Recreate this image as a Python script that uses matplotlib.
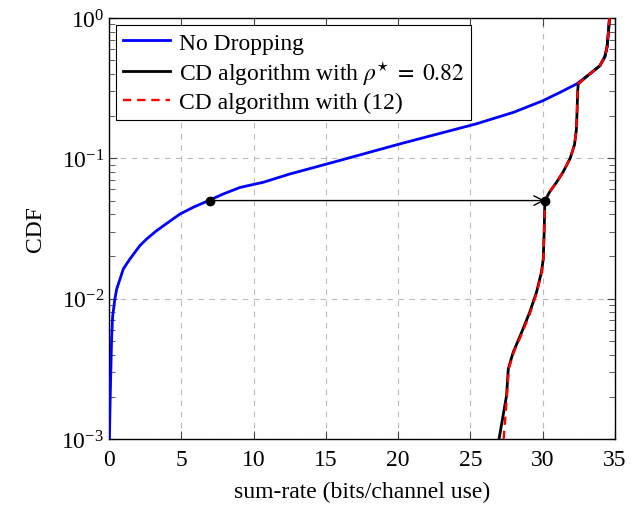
import matplotlib
matplotlib.use('Agg')
from matplotlib import pyplot as plt
from matplotlib.ticker import LogLocator, NullFormatter

plt.rcParams['font.family'] = ['Liberation Serif', 'DejaVu Serif']
plt.rcParams['mathtext.fontset'] = 'stix'
plt.rcParams['font.size'] = 17

# No Dropping
rate_nodrop = [0.03, 0.07, 0.11, 0.14, 0.18, 0.25, 0.41, 0.53, 0.76, 0.99, 1.45, 2.14, 2.6,
               3.29, 4.1, 4.91, 5.83, 6.87, 7.9, 9.06, 10.67, 12.5, 15.5, 20.1, 25.4, 28.0,
               30.0, 31.2, 32.35, 33.0, 33.96, 34.3, 34.45, 34.55, 34.62]
cdf_nodrop = [1e-3, 0.0017, 0.0026, 0.0035, 0.0052, 0.0075, 0.01, 0.0117, 0.0138, 0.0163,
              0.0192, 0.0239, 0.0266, 0.0305, 0.035, 0.0401, 0.0448, 0.0499, 0.0557, 0.062,
              0.0675, 0.0773, 0.0937, 0.1265, 0.176, 0.213, 0.257, 0.295, 0.339, 0.38,
              0.457, 0.53, 0.62, 0.8, 1.0]

# CD algorithm, rho* = 0.82
rate_cd = [26.98, 27.5, 27.62, 27.96, 28.54, 29.1, 29.57, 29.91, 30.04, 30.1, 30.15, 30.5,
           30.96, 31.4, 31.9, 32.2, 32.33, 32.38, 32.42, 32.46, 33.0, 33.96, 34.3, 34.45,
           34.55, 34.62]
cdf_cd = [1e-3, 0.00204, 0.00316, 0.00415, 0.00575, 0.008, 0.0111, 0.0154, 0.0192, 0.0297,
          0.05, 0.058, 0.0675, 0.0795, 0.1, 0.125, 0.16, 0.22, 0.3, 0.339, 0.38, 0.457,
          0.53, 0.62, 0.8, 1.0]

# CD algorithm with (12)
rate_cd12 = [27.3, 27.53, 27.65, 28.0, 28.6, 29.15, 29.6, 29.93, 30.05, 30.1, 30.15, 30.5,
             30.96, 31.4, 31.9, 32.2, 32.33, 32.38, 32.42, 32.46, 33.0, 33.96, 34.3, 34.45,
             34.55, 34.62]
cdf_cd12 = cdf_cd

# operating points joined by the arrow
pt_x = [7.0, 30.15]
pt_y = [0.05, 0.05]

fig = plt.figure(figsize=(6.39, 5.06), dpi=100)
ax = fig.add_axes([0.1706, 0.1304, 0.7918, 0.8321])

ax.plot(rate_nodrop, cdf_nodrop, color='blue', lw=2.0, label='No Dropping', zorder=3)
ax.plot(rate_cd, cdf_cd, color='black', lw=2.0,
        label=r'CD algorithm with $\rho^{\star}\;=\;0.82$', zorder=4)
ax.plot(rate_cd12, cdf_cd12, color='red', lw=1.7, ls=(0, (3.5, 2.5)),
        label='CD algorithm with (12)', zorder=5)

ax.annotate('', xy=(pt_x[1], pt_y[1]), xytext=(pt_x[0], pt_y[0]),
            arrowprops=dict(arrowstyle='->', color='black', lw=1.0, shrinkA=0, shrinkB=0),
            zorder=6)
ax.plot(pt_x, pt_y, 'o', color='black', ms=6, ls='none', zorder=7)

ax.set_yscale('log')
ax.set_xlim(0, 35)
ax.set_ylim(1e-3, 1)
ax.set_xticks(range(0, 36, 5))
ax.yaxis.set_minor_locator(LogLocator(base=10, subs=range(2, 10)))
ax.yaxis.set_minor_formatter(NullFormatter())
ax.grid(True, which='major', color='#bbbbbb', ls=(0, (5, 5)), lw=0.8)
ax.tick_params(which='both', direction='in', top=True, right=True, color='#444444')
ax.tick_params(which='major', length=6, width=0.8)
ax.tick_params(which='minor', length=4, width=0.6)
ax.tick_params(axis='x', pad=7)
for sp in ax.spines.values():
    sp.set_linewidth(1.0)

ax.set_xlabel('sum-rate (bits/channel use)', labelpad=8)
ax.set_ylabel('CDF', labelpad=11)

leg = ax.legend(loc='upper left', fancybox=False, framealpha=1, edgecolor='black',
                handlelength=2.0, handletextpad=0.35, borderaxespad=0.3,
                labelspacing=0.2, borderpad=0.3)
leg.get_frame().set_linewidth(0.8)

fig.savefig('out.png', dpi=100)
